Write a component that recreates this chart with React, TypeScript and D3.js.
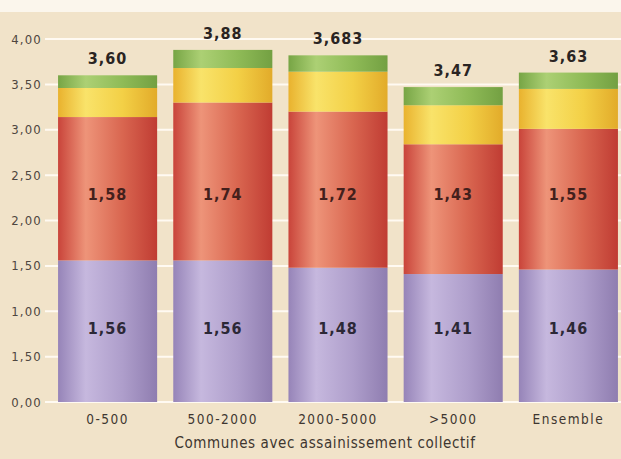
import * as d3 from 'd3';
import React from 'react';

const categories = ['0-500', '500-2000', '2000-5000', '>5000', 'Ensemble'];
const purpleValues = [1.56, 1.56, 1.48, 1.41, 1.46];
const redValues = [1.58, 1.74, 1.72, 1.43, 1.55];
const yellowValues = [0.32, 0.38, 0.44, 0.43, 0.44];
const greenValues = [0.14, 0.2, 0.18, 0.2, 0.18];
const totalLabels = ['3,60', '3,88', '3,683', '3,47', '3,63'];
const redLabels = ['1,58', '1,74', '1,72', '1,43', '1,55'];
const purpleLabels = ['1,56', '1,56', '1,48', '1,41', '1,46'];
const tickValues = [0, 0.5, 1, 1.5, 2, 2.5, 3, 3.5, 4];
const tickLabels = ['0,00', '1,50', '1,00', '1,50', '2,00', '2,50', '3,00', '3,50', '4,00'];
const xTitle = 'Communes avec assainissement collectif';

const W = 621;
const H = 459;
const font = "'DejaVu Sans Condensed', 'Liberation Sans Narrow', 'Open Sans', sans-serif";

const series = [
  { key: 'purple', values: purpleValues, stops: ['#9684b8', '#c6b8de', '#ae9ecb', '#8f7db0'] },
  { key: 'red', values: redValues, stops: ['#c9443a', '#ee9479', '#d96650', '#c03c33'] },
  { key: 'yellow', values: yellowValues, stops: ['#e9b22e', '#f9e36a', '#f3d046', '#e2ab2a'] },
  { key: 'green', values: greenValues, stops: ['#77a545', '#acd074', '#8fbb57', '#73a042'] },
];

const App: React.FC = () => {
  const x = d3.scaleBand<string>().domain(categories).range([50, 626]).paddingInner(0.14).paddingOuter(0.07);
  const y = d3.scaleLinear().domain([0, 4]).range([402, 39]);

  const rows = categories.map((c, i) => {
    const r: Record<string, number | string> = { cat: c };
    series.forEach((s) => (r[s.key] = s.values[i]));
    return r;
  });
  const stacked = d3.stack<Record<string, number | string>>().keys(series.map((s) => s.key))(rows as any);

  return (
    <div style={{ position: 'absolute', left: 0, top: 0 }}>
      <svg width={W} height={H} viewBox={`0 0 ${W} ${H}`} style={{ display: 'block' }}>
        <defs>
          {series.map((s) => (
            <linearGradient key={s.key} id={`g-${s.key}`} x1="0" x2="1" y1="0" y2="0">
              <stop offset="0%" stopColor={s.stops[0]} />
              <stop offset="28%" stopColor={s.stops[1]} />
              <stop offset="65%" stopColor={s.stops[2]} />
              <stop offset="100%" stopColor={s.stops[3]} />
            </linearGradient>
          ))}
        </defs>
        <rect x={0} y={0} width={W} height={H} fill="#f1e3c9" />
        <rect x={0} y={0} width={W} height={12} fill="#fbf6ec" />

        {tickValues.map((t, i) => (
          <g key={i}>
            <line x1={45} x2={W} y1={y(t)} y2={y(t)} stroke="#fffaf2" strokeWidth={2} />
            <text x={42} y={y(t)} dy="0.35em" textAnchor="end" fontFamily={font} fontSize={13} letterSpacing={1.2} fill="#4e4640">
              {tickLabels[i]}
            </text>
          </g>
        ))}

        {stacked.map((layer, li) => (
          <g key={series[li].key} fill={`url(#g-${series[li].key})`}>
            {layer.map((d, i) => (
              <rect
                key={i}
                x={x(categories[i])}
                width={x.bandwidth()}
                y={y(d[1])}
                height={y(d[0]) - y(d[1])}
              />
            ))}
          </g>
        ))}

        {categories.map((c, i) => {
          const cx = (x(c) ?? 0) + x.bandwidth() / 2;
          const top = stacked[stacked.length - 1][i][1];
          return (
            <g key={c} fontFamily={font} textAnchor="middle">
              <text x={cx} y={y(top) - 11} fontSize={16} fontWeight="bold" letterSpacing={1} fill="#2a2422">
                {totalLabels[i]}
              </text>
              <text x={cx} y={y(2.29)} dy="0.35em" fontSize={16} fontWeight="bold" letterSpacing={1} fill="#43201c">
                {redLabels[i]}
              </text>
              <text x={cx} y={y(0.81)} dy="0.35em" fontSize={16} fontWeight="bold" letterSpacing={1} fill="#2c2836">
                {purpleLabels[i]}
              </text>
              <text x={cx} y={419} dy="0.35em" fontSize={13.5} letterSpacing={1.5} fill="#3e3630">
                {c}
              </text>
            </g>
          );
        })}

        <text x={325} y={443} dy="0.35em" textAnchor="middle" fontFamily={font} fontSize={15} letterSpacing={0.6} fill="#3e3630">
          {xTitle}
        </text>
      </svg>
    </div>
  );
};

export default App;
